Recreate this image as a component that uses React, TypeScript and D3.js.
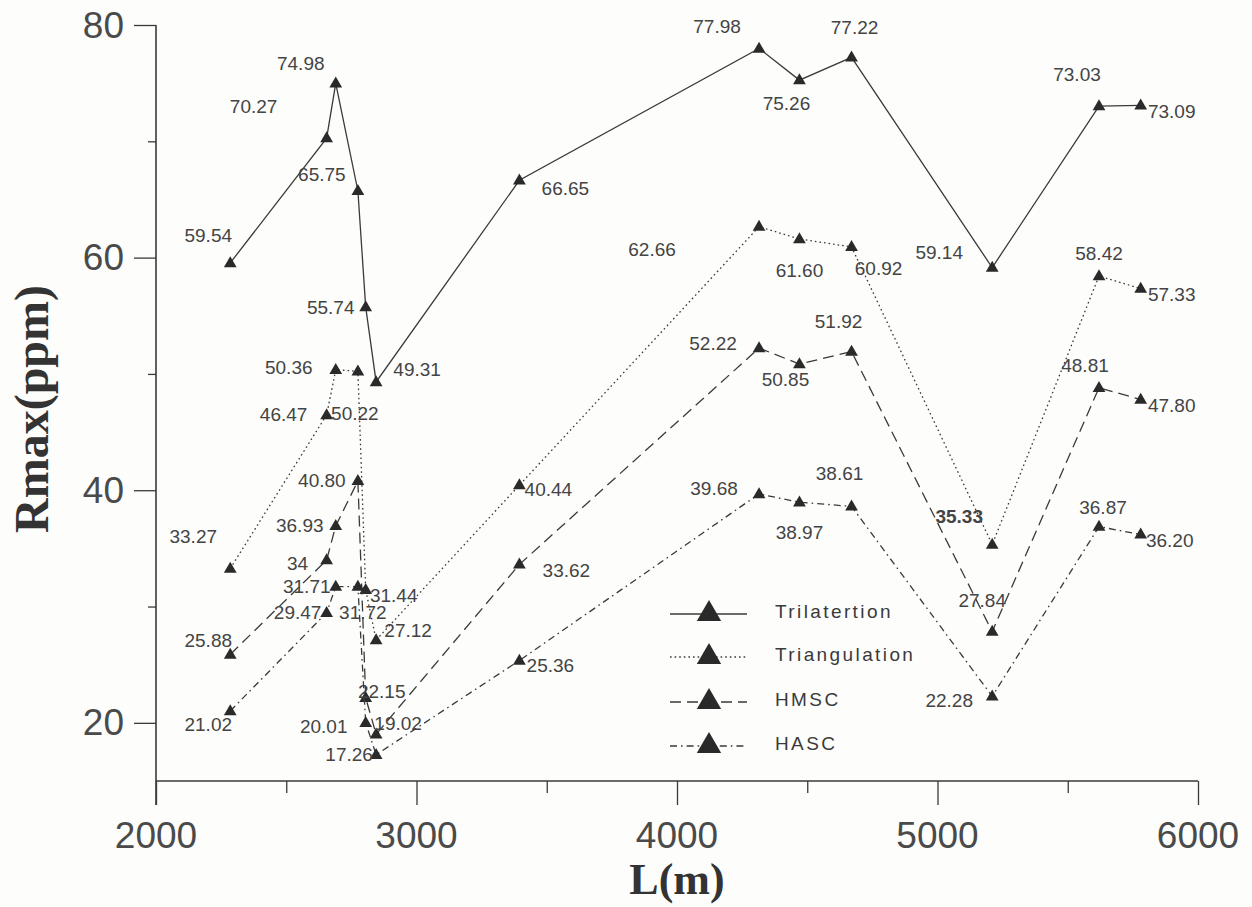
import React, { useRef, useEffect } from 'react';
import * as d3 from 'd3';

// L(m) positions shared by all four methods
const lengths = [2285, 2655, 2690, 2775, 2805, 2845, 3395, 4315, 4470, 4670, 5210, 5620, 5780];
const trilateration = [59.54, 70.27, 74.98, 65.75, 55.74, 49.31, 66.65, 77.98, 75.26, 77.22, 59.14, 73.03, 73.09];
const triangulation = [33.27, 46.47, 50.36, 50.22, 31.44, 27.12, 40.44, 62.66, 61.6, 60.92, 35.33, 58.42, 57.33];
const hmsc = [25.88, 34, 36.93, 40.8, 22.15, 19.02, 33.62, 52.22, 50.85, 51.92, 27.84, 48.81, 47.8];
const hasc = [21.02, 29.47, 31.71, 31.72, 20.01, 17.26, 25.36, 39.68, 38.97, 38.61, 22.28, 36.87, 36.2];
const seriesNames = ['Trilatertion', 'Triangulation', 'HMSC', 'HASC'];
const xTicks = [2000, 3000, 4000, 5000, 6000];
const yTicks = [20, 40, 60, 80];

// where each value label sits, relative to its marker
const triOff = [[-22, -27], [-73, -32], [-35, -20], [-36, -16], [-35, 0], [41, -12], [46, 8], [-42, -22], [-13, 23], [3, -30], [-53, -15], [-22, -32], [31, 6]];
const triaOff = [[-37, -32], [-43, 0], [-47, -2], [-3, 42], [28, 6], [32, -10], [29, 4], [-107, 23], [0, 31], [27, 22], [-33, -28], [0, -22], [31, 6]];
const hmscOff = [[-22, -14], [-29, 3], [-36, 0], [-36, 0], [16, -6], [22, -11], [47, 6], [-46, -5], [-14, 15], [-13, -30], [-10, -31], [-14, -22], [31, 6]];
const hascOff = [[-22, 14], [-29, 0], [-29, 0], [5, 26], [-42, 4], [-27, 0], [31, 5], [-45, -5], [0, 30], [-12, -33], [-43, 4], [4, -19], [29, 6]];

const W = 1252, H = 907;
const ink = '#3a3a3a';

export default function App() {
  const ref = useRef<SVGSVGElement>(null);

  useEffect(() => {
    const svg = d3.select(ref.current);
    svg.selectAll('*').remove();

    const x = d3.scaleLinear().domain([2000, 6000]).range([156, 1198]);
    const y = d3.scaleLinear().domain([15, 80]).range([781, 25]);

    svg.append('rect').attr('width', W).attr('height', H).attr('fill', '#fdfdfc');

    const tickFont = 'Liberation Sans, Arial, sans-serif';

    // y axis
    const ya = svg.append('g').attr('transform', 'translate(156,0)');
    ya.call(d3.axisLeft(y).tickValues(d3.range(20, 81, 10)).tickSize(0).tickFormat(() => ''));
    ya.select('.domain').remove();
    ya.append('line').attr('x1', 0).attr('x2', 0).attr('y1', y(80)).attr('y2', 805)
      .attr('stroke', ink).attr('stroke-width', 1.6);
    ya.selectAll('.tick line')
      .attr('x2', (d: any) => (yTicks.includes(d) ? -22 : -8))
      .attr('stroke', ink).attr('stroke-width', 1.3);
    yTicks.forEach(v => {
      ya.append('text').attr('x', -32).attr('y', y(v))
        .attr('text-anchor', 'end').attr('dominant-baseline', 'central')
        .attr('font-family', tickFont).attr('font-size', 37).attr('font-weight', 300)
        .attr('fill', '#4a4a4a').text(v);
    });

    // x axis
    const xa = svg.append('g').attr('transform', 'translate(0,781)');
    xa.call(d3.axisBottom(x).tickValues(d3.range(2000, 6001, 500)).tickSize(0).tickFormat(() => ''));
    xa.select('.domain').remove();
    xa.append('line').attr('x1', 156).attr('x2', 1198).attr('y1', 0).attr('y2', 0)
      .attr('stroke', ink).attr('stroke-width', 1.6);
    xa.selectAll('.tick line')
      .attr('y2', (d: any) => (d % 1000 === 0 ? 24 : 12))
      .attr('stroke', ink).attr('stroke-width', 1.3);
    xTicks.forEach(v => {
      xa.append('text').attr('x', x(v)).attr('y', 54)
        .attr('text-anchor', 'middle').attr('dominant-baseline', 'central')
        .attr('font-family', tickFont).attr('font-size', 37).attr('font-weight', 300)
        .attr('fill', '#4a4a4a').text(v);
    });

    // axis titles
    svg.append('text').attr('transform', 'translate(31,409) rotate(-90)')
      .attr('text-anchor', 'middle').attr('dominant-baseline', 'central')
      .attr('font-family', 'Liberation Serif, Times New Roman, serif').attr('font-weight', 'bold')
      .attr('font-size', 48).attr('fill', '#333').text('Rmax(ppm)');
    svg.append('text').attr('x', 677).attr('y', 879)
      .attr('text-anchor', 'middle').attr('dominant-baseline', 'central')
      .attr('font-family', 'Liberation Serif, Times New Roman, serif').attr('font-weight', 'bold')
      .attr('font-size', 44).attr('fill', '#333').text('L(m)');

    const dashes = [null, '1.6,3', '11,6', '7,4,1.6,4'];
    const all = [trilateration, triangulation, hmsc, hasc];
    const offs = [triOff, triaOff, hmscOff, hascOff];
    const tri = (s: number) => `M0,${-s * 0.62}L${s * 0.58},${s * 0.38}L${-s * 0.58},${s * 0.38}Z`;
    const fmt = (v: number) => (Number.isInteger(v) ? String(v) : v.toFixed(2));

    const line = d3.line<number>().x((d, i) => x(lengths[i])).y(d => y(d));

    all.forEach((vals, si) => {
      const g = svg.append('g');
      g.append('path').datum(vals).attr('d', line).attr('fill', 'none')
        .attr('stroke', ink).attr('stroke-width', 1.3)
        .attr('stroke-dasharray', dashes[si]);
      g.selectAll('path.m').data(vals).join('path').attr('class', 'm')
        .attr('transform', (d, i) => `translate(${x(lengths[i])},${y(d)})`)
        .attr('d', tri(11)).attr('fill', '#2a2a2a');
      g.selectAll('text').data(vals).join('text')
        .attr('x', (d, i) => x(lengths[i]) + offs[si][i][0])
        .attr('y', (d, i) => y(d) + offs[si][i][1])
        .attr('text-anchor', 'middle').attr('dominant-baseline', 'central')
        .attr('font-family', tickFont).attr('font-size', 19)
        .attr('font-weight', d => (d === 35.33 ? 'bold' : 'normal'))
        .attr('fill', '#444').text(d => fmt(d));
    });

    // legend
    const legendY = [611, 654, 699, 743];
    const lg = svg.append('g');
    seriesNames.forEach((name, i) => {
      lg.append('line').attr('x1', 670).attr('x2', 747).attr('y1', legendY[i] + 3).attr('y2', legendY[i] + 3)
        .attr('stroke', ink).attr('stroke-width', 1.3).attr('stroke-dasharray', dashes[i]);
      lg.append('path').attr('transform', `translate(709,${legendY[i] + 2})`).attr('d', tri(21)).attr('fill', '#2a2a2a');
      lg.append('text').attr('x', 775).attr('y', legendY[i]).attr('dominant-baseline', 'central')
        .attr('font-family', tickFont).attr('font-size', 19).attr('letter-spacing', 2.4)
        .attr('fill', '#3a3a3a').text(name);
    });
  }, []);

  return (
    <svg ref={ref} width={W} height={H} style={{ position: 'absolute', left: 0, top: 0 }} />
  );
}
